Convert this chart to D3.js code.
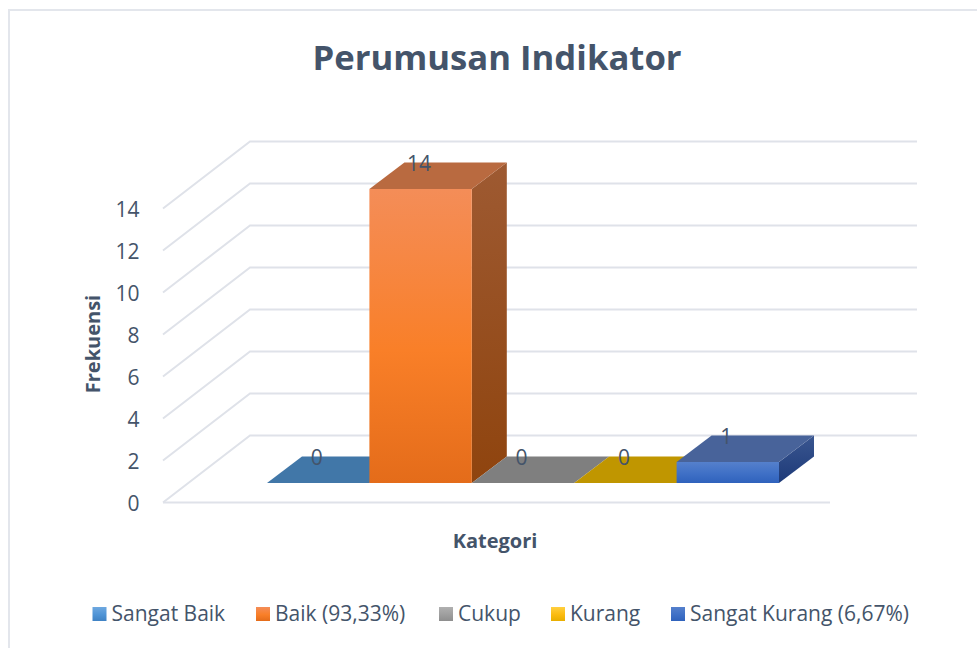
<!DOCTYPE html>
<html>
<head>
<meta charset="utf-8">
<script src="https://d3js.org/d3.v7.min.js"></script>
<style>
html, body { margin: 0; padding: 0; background: #fff; overflow: hidden; }
text { font-family: "Open Sans", sans-serif; fill: #44546a; }
</style>
</head>
<body>
<script>
var categories = ["Sangat Baik", "Baik (93,33%)", "Cukup", "Kurang", "Sangat Kurang (6,67%)"];
var values = [0, 14, 0, 0, 1];
var yTicks = [0, 2, 4, 6, 8, 10, 12, 14];

var gradTop = ["#6ea8e0", "#f48d58", "#b0b0b0", "#ffcf40", "#5580cc"];
var gradMid = ["#4f94d6", "#f97f28", "#9e9e9e", "#fbbb10", "#3f70c6"];
var gradBottom = ["#3f82c4", "#e46c1a", "#8e8e8e", "#e8ae00", "#2f62bc"];
var topColors = ["#4177a8", "#b96a40", "#7f7f7f", "#c09600", "#48639a"];
var sideTop = ["#33648f", "#9e5a32", "#6c6c6c", "#a37f00", "#3a5690"];
var sideBottom = ["#2a5278", "#8f440e", "#5c5c5c", "#8c6d00", "#1d3a78"];

var width = 977, height = 648;
var depthX = 87, depthY = -67;
var barDepthX = 35, barDepthY = -26.5;

var svg = d3.select("body").append("svg")
	.attr("width", width)
	.attr("height", height);

//front plane of the value axis
var y = d3.scaleLinear().domain([0, 14]).range([502.5, 208.5]);
//bars are pushed into the floor, so they have their own baseline
var h = d3.scaleLinear().domain([0, 14]).range([0, 294]);
var x = d3.scaleBand().domain(categories).range([267, 779]);
var barBase = 483;

var defs = svg.append("defs");
categories.forEach(function(c, i){
	var g = defs.append("linearGradient").attr("id", "front" + i)
		.attr("x1", 0).attr("x2", 0).attr("y1", 0).attr("y2", 1);
	g.append("stop").attr("offset", "0%").attr("stop-color", gradTop[i]);
	g.append("stop").attr("offset", "55%").attr("stop-color", gradMid[i]);
	g.append("stop").attr("offset", "100%").attr("stop-color", gradBottom[i]);

	var s = defs.append("linearGradient").attr("id", "side" + i)
		.attr("x1", 0).attr("x2", 0).attr("y1", 0).attr("y2", 1);
	s.append("stop").attr("offset", "0%").attr("stop-color", sideTop[i]);
	s.append("stop").attr("offset", "100%").attr("stop-color", sideBottom[i]);
});

//chart frame
svg.append("rect")
	.attr("x", 9).attr("y", 10)
	.attr("width", width + 20).attr("height", height + 20)
	.attr("fill", "#fff")
	.attr("stroke", "#e3e6ec")
	.attr("stroke-width", 2);

//title
svg.append("text")
	.attr("x", 497).attr("y", 69.5)
	.attr("text-anchor", "middle")
	.style("font-size", "34.7px")
	.style("font-weight", 700)
	.text("Perumusan Indikator");

//gridlines, wall and floor
var grid = svg.append("g").attr("class", "grid")
	.attr("fill", "none")
	.attr("stroke", "#dfe2e9")
	.attr("stroke-width", 2);
yTicks.forEach(function(t){
	grid.append("path")
		.attr("d", d3.line()([
			[163, y(t)],
			[163 + depthX, y(t) + depthY],
			[917, y(t) + depthY]
		]));
});
grid.append("path")
	.attr("d", d3.line()([[163, y(0)], [830, y(0)]]));

//tick labels
svg.append("g").selectAll("text")
	.data(yTicks).enter().append("text")
	.attr("x", 139.5)
	.attr("y", function(d){ return y(d) + 1; })
	.attr("dy", "0.35em")
	.attr("text-anchor", "end")
	.style("font-size", "21px")
	.text(function(d){ return d; });

//bars
var bars = svg.append("g").selectAll("g")
	.data(categories).enter().append("g").attr("class", "bar");

bars.append("path")
	.attr("fill", function(d, i){ return "url(#side" + i + ")"; })
	.attr("d", function(d, i){
		var r = x(d) + x.bandwidth(), t = barBase - h(values[i]);
		return d3.line()([[r, t], [r + barDepthX, t + barDepthY], [r + barDepthX, barBase + barDepthY], [r, barBase]]) + "Z";
	});
bars.append("path")
	.attr("fill", function(d, i){ return topColors[i]; })
	.attr("d", function(d, i){
		var l = x(d), r = l + x.bandwidth(), t = barBase - h(values[i]);
		return d3.line()([[l, t], [l + barDepthX, t + barDepthY], [r + barDepthX, t + barDepthY], [r, t]]) + "Z";
	});
bars.append("rect")
	.attr("fill", function(d, i){ return "url(#front" + i + ")"; })
	.attr("x", function(d){ return x(d); })
	.attr("y", function(d, i){ return barBase - h(values[i]); })
	.attr("width", x.bandwidth())
	.attr("height", function(d, i){ return h(values[i]); });

//data labels
svg.append("g").selectAll("text")
	.data(categories).enter().append("text")
	.attr("x", function(d){ return x(d) + x.bandwidth() / 2 - 1.5; })
	.attr("y", function(d, i){ return barBase - h(values[i]) - 25.5; })
	.attr("dy", "0.35em")
	.attr("text-anchor", "middle")
	.style("font-size", "21px")
	.text(function(d, i){ return values[i]; });

//axis titles
svg.append("text")
	.attr("x", 495).attr("y", 548)
	.attr("text-anchor", "middle")
	.style("font-size", "20px")
	.style("font-weight", 700)
	.text("Kategori");

svg.append("text")
	.attr("transform", "translate(100,344) rotate(-90)")
	.attr("text-anchor", "middle")
	.style("font-size", "20px")
	.style("font-weight", 700)
	.text("Frekuensi");

//legend
var legendX = [92.5, 256, 439, 551, 671];
var legend = svg.append("g").selectAll("g")
	.data(categories).enter().append("g")
	.attr("transform", function(d, i){ return "translate(" + legendX[i] + ",607)"; });
legend.append("rect")
	.attr("width", 14).attr("height", 14)
	.attr("fill", function(d, i){ return "url(#front" + i + ")"; });
legend.append("text")
	.attr("x", 19).attr("y", 7)
	.attr("dy", "0.35em")
	.style("font-size", "21px")
	.text(function(d){ return d; });
</script>
</body>
</html>
